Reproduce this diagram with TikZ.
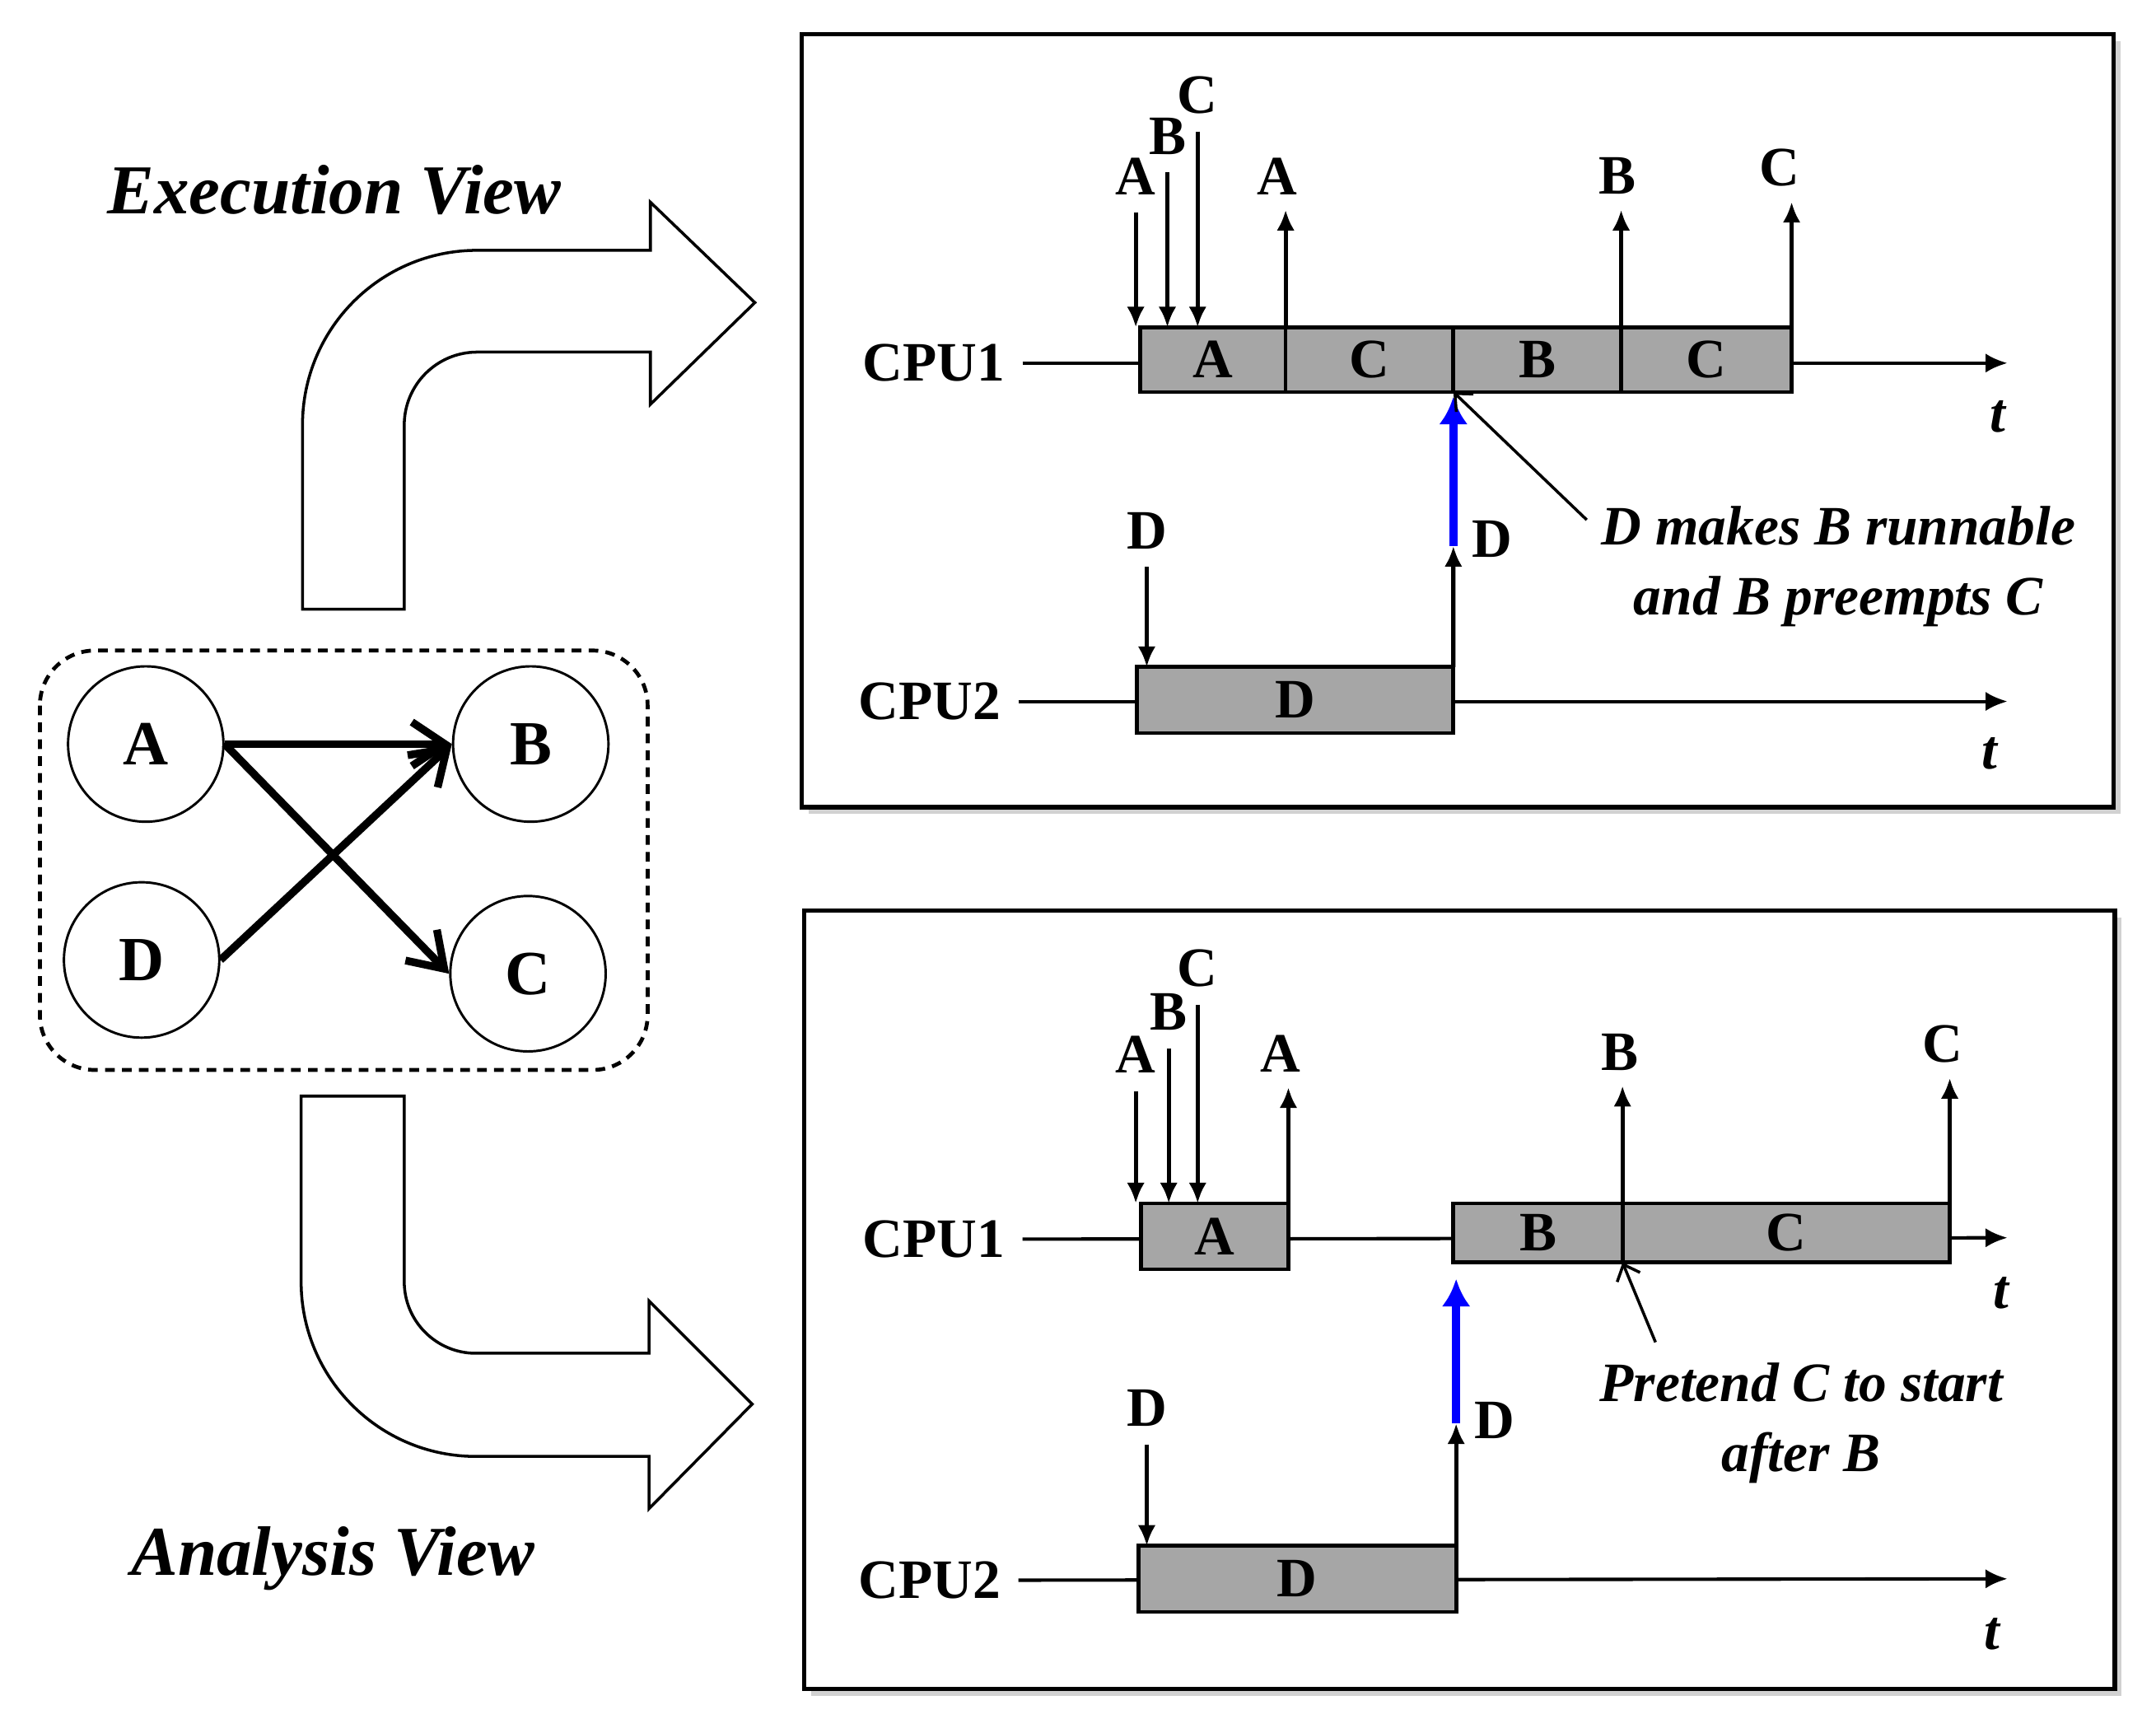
\documentclass[tikz,border=0pt]{standalone}
\usepackage{fontspec}
\setmainfont{Liberation Serif}
\usetikzlibrary{arrows.meta,shadows}

\definecolor{jobgray}{RGB}{166,166,166}

\begin{document}
\begin{tikzpicture}[
  every node/.style={font=\fontsize{11.5}{14}\selectfont\bfseries,inner sep=1.5pt},
  task/.style={circle,draw,line width=0.5pt,minimum size=1.13cm,inner sep=0pt,font=\fontsize{13}{15}\selectfont\bfseries},
  dep/.style={line width=1.6pt,-{Straight Barb[length=2.4mm,width=3.2mm]}},
  bigarrow/.style={draw,line width=0.6pt,fill=white},
  title/.style={font=\fontsize{14.5}{17}\selectfont\bfseries\itshape},
  panel/.style={draw,line width=0.9pt,fill=white,drop shadow={shadow xshift=0.05cm,shadow yshift=-0.05cm,fill=black!30,opacity=0.6}},
  job/.style={draw,fill=jobgray,line width=0.8pt,minimum height=0.47cm,inner sep=0pt,outer sep=0pt,anchor=south west},
  axis/.style={line width=0.7pt,-{Latex[length=1.6mm,width=1.4mm]}},
  ev/.style={line width=0.9pt,-{Latex[length=1.5mm,width=1.3mm]}},
  wake/.style={blue,line width=1.8pt,-{Latex[length=2mm,width=2.1mm]}},
  note/.style={font=\fontsize{11.5}{14.5}\selectfont\bfseries\itshape,align=center},
  pointer/.style={line width=0.6pt,-{Straight Barb[length=1mm,width=1.8mm]}},
  tlabel/.style={font=\fontsize{11.5}{14}\selectfont\bfseries\itshape}
]
\useasboundingbox (0,0) rectangle (15.68,-12.60);

% task graph
\draw[dashed,dash pattern=on 2pt off 1.5pt,line width=0.8pt,rounded corners=0.4cm] (0.29,-4.73) rectangle (4.71,-7.78);
\node[task] (A) at (1.06,-5.41) {A};
\node[task] (B) at (3.86,-5.41) {B};
\node[task] (D) at (1.03,-6.98) {D};
\node[task] (C) at (3.84,-7.08) {C};
\draw[dep] (A.east) -- (B.west);
\draw[dep] (A.east) -- (C.west);
\draw[dep] (D.east) -- (B.west);

% the two views
\draw[bigarrow] (2.20,-4.43) -- (2.20,-3.09) arc[start angle=180,end angle=90,radius=1.27]
  -- (4.73,-1.82) -- (4.73,-1.47) -- (5.49,-2.20) -- (4.73,-2.94) -- (4.73,-2.56)
  -- (3.47,-2.56) arc[start angle=90,end angle=180,radius=0.53] -- (2.94,-4.43) -- cycle;
\draw[bigarrow] (2.19,-7.97) -- (2.19,-9.32) arc[start angle=180,end angle=270,radius=1.27]
  -- (4.72,-10.59) -- (4.72,-10.97) -- (5.47,-10.21) -- (4.72,-9.46) -- (4.72,-9.84)
  -- (3.46,-9.84) arc[start angle=270,end angle=180,radius=0.52] -- (2.94,-7.97) -- cycle;
\node[title] (exec) at (2.43,-1.38) {Execution View};
\node[title] (anal) at (2.42,-11.33) {Analysis View};

% execution view
\draw[panel] (5.83,-0.25) rectangle (15.37,-5.87);
\node (cpu11) at (6.79,-2.64) {CPU1};
\coordinate (e11) at (14.60,-2.64);
\draw[axis] ([xshift=2pt]cpu11.east) -- (e11);
\node[tlabel] (t11) at (14.53,-3.03) {t};
\node[job,minimum width=1.06cm] (jA1) at (8.29,-2.85) {A};
\node[job,minimum width=1.22cm] (jC1) at (jA1.south east) {C};
\node[job,minimum width=1.22cm] (jB1) at (jC1.south east) {B};
\node[job,minimum width=1.24cm] (jC1b) at (jB1.south east) {C};
\node (rA1) at (8.26,-1.28) {A};
\node (rB1) at (8.49,-0.99) {B};
\node (rC1) at (8.71,-0.69) {C};
\draw[ev] ([yshift=-2pt]rA1.south) -- (rA1.south |- jA1.north);
\draw[ev] ([yshift=-2pt]rB1.south) -- (rB1.south |- jA1.north);
\draw[ev] ([yshift=-2pt]rC1.south) -- (rC1.south |- jA1.north);
\node (cA1) at (9.29,-1.28) {A};
\node (cB1) at (11.76,-1.28) {B};
\node (cC1) at (12.94,-1.22) {C};
\draw[ev] (jA1.north east) -- ([yshift=-1.5pt]jA1.north east |- cA1.south);
\draw[ev] (jB1.north east) -- ([yshift=-1.5pt]jB1.north east |- cB1.south);
\draw[ev] (jC1b.north east) -- ([yshift=-1.5pt]jC1b.north east |- cC1.south);

\node (cpu21) at (6.76,-5.10) {CPU2};
\coordinate (e21) at (14.60,-5.10);
\draw[axis] ([xshift=2pt]cpu21.east) -- (e21);
\node[tlabel] (t21) at (14.47,-5.48) {t};
\node[job,minimum width=2.30cm,minimum height=0.48cm] (jD1) at (8.27,-5.33) {D};
\node (rD1) at (8.34,-3.86) {D};
\node (cD1) at (10.85,-3.92) {D};
\coordinate (wD1) at (10.57,-3.97);
\draw[ev] ([yshift=-2pt]rD1.south) -- (rD1.south |- jD1.north);
\draw[ev] (jD1.north east) -- (wD1);
\draw[wake] (wD1) -- ([yshift=-1pt]wD1 |- jB1.south west);
\node[note] (n1) at (13.37,-4.12) {D makes B runnable\\and B preempts C};
\coordinate (p1) at (11.54,-3.78);
\draw[pointer] (p1) -- (jB1.south west);

% analysis view
\draw[panel] (5.85,-6.62) rectangle (15.38,-12.28);
\node (cpu12) at (6.79,-9.01) {CPU1};
\coordinate (e12) at (14.60,-9.00);
\draw[axis] ([xshift=2pt]cpu12.east) -- (e12);
\node[tlabel] (t12) at (14.55,-9.40) {t};
\node[job,minimum width=1.07cm,minimum height=0.48cm] (jA2) at (8.30,-9.23) {A};
\node[job,minimum width=1.23cm,minimum height=0.43cm] (jB2) at (10.57,-9.18) {B};
\node[job,minimum width=2.38cm,minimum height=0.43cm] (jC2) at (jB2.south east) {C};
\node (rA2) at (8.26,-7.67) {A};
\node (rB2) at (8.50,-7.36) {B};
\node (rC2) at (8.71,-7.04) {C};
\draw[ev] ([yshift=-2pt]rA2.south) -- (rA2.south |- jA2.north);
\draw[ev] ([yshift=-2pt]rB2.south) -- (rB2.south |- jA2.north);
\draw[ev] ([yshift=-2pt]rC2.south) -- (rC2.south |- jA2.north);
\node (cA2) at (9.31,-7.66) {A};
\node (cB2) at (11.78,-7.65) {B};
\node (cC2) at (14.13,-7.59) {C};
\draw[ev] (jA2.north east) -- ([yshift=-1.5pt]jA2.north east |- cA2.south);
\draw[ev] (jB2.south east) -- ([yshift=-1.5pt]jB2.south east |- cB2.south);
\draw[ev] (jC2.north east) -- ([yshift=-1.5pt]jC2.north east |- cC2.south);

\node (cpu22) at (6.76,-11.49) {CPU2};
\coordinate (e22) at (14.60,-11.48);
\draw[axis] ([xshift=2pt]cpu22.east) -- (e22);
\node[tlabel] (t22) at (14.49,-11.88) {t};
\node[job,minimum width=2.31cm,minimum height=0.48cm] (jD2) at (8.28,-11.72) {D};
\node (rD2) at (8.34,-10.24) {D};
\node (cD2) at (10.87,-10.33) {D};
\coordinate (wD2) at (10.59,-10.35);
\draw[ev] ([yshift=-2pt]rD2.south) -- (rD2.south |- jD2.north);
\draw[ev] (jD2.north east) -- (wD2);
\draw[wake] (wD2) -- ([yshift=-0.12cm]wD2 |- jB2.south west);
\node[note] (n2) at (13.10,-10.35) {Pretend C to start\\after B};
\coordinate (p2) at (12.04,-9.76);
\draw[pointer] (p2) -- (jB2.south east);
\end{tikzpicture}
\end{document}
